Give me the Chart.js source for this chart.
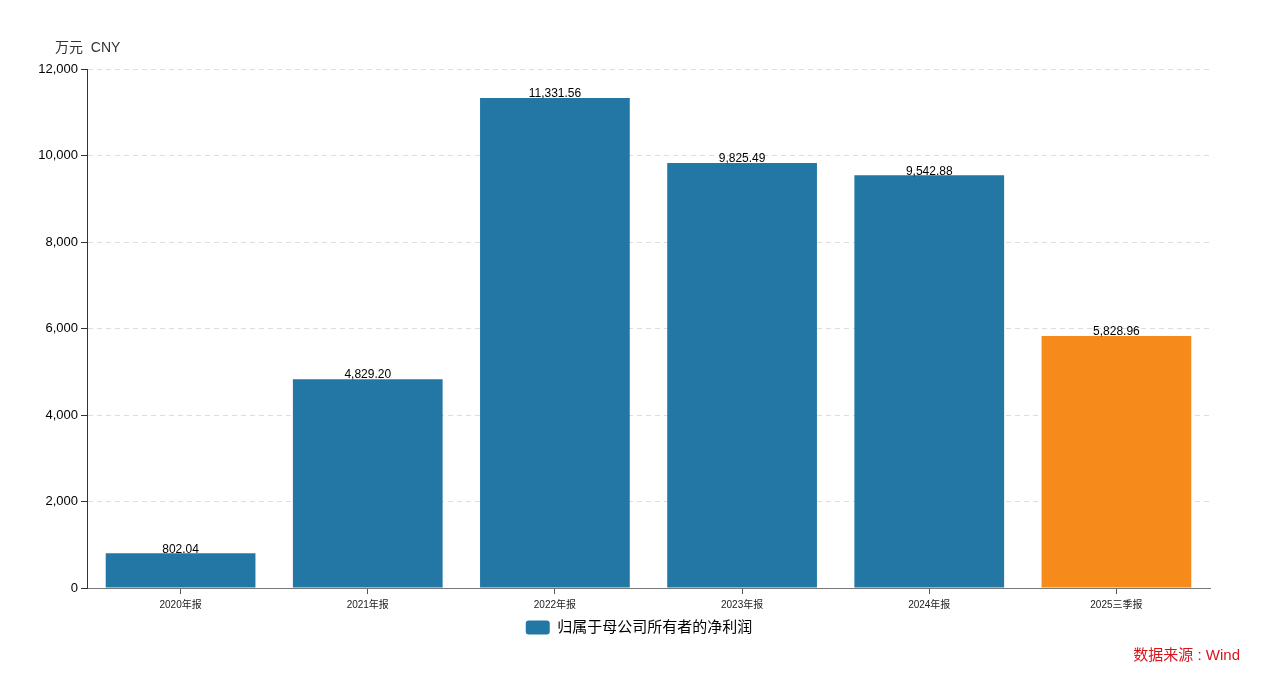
<!DOCTYPE html>
<html>
<head>
<meta charset="utf-8">
<script src="https://cdn.jsdelivr.net/npm/chart.js@4"></script>
<style>
  html, body { margin: 0; padding: 0; background: #fff; }
  #wrap { position: relative; width: 1268px; height: 679px; }
</style>
</head>
<body>
<div id="wrap"><canvas id="profitChart" width="1268" height="679"></canvas></div>
<script>
// 数据
const categories = ['2020年报', '2021年报', '2022年报', '2023年报', '2024年报', '2025三季报'];
const netProfit = [802.04, 4829.20, 11331.56, 9825.49, 9542.88, 5828.96];
const barColors = ['#2377a4', '#2377a4', '#2377a4', '#2377a4', '#2377a4', '#f68a1a'];
const yTicks = [0, 2000, 4000, 6000, 8000, 10000, 12000];

const FONT = '"Liberation Sans", Arial, "Noto Sans CJK SC", sans-serif';

// 柱顶数值 + 单位 + 数据来源
const extraText = {
    id: 'extraText',
    afterLayout(chart) {
        // 图例稍微右移，和原图对齐
        if (chart.legend) {
            chart.legend.left += 34;
            chart.legend.right += 34;
        }
    },
    afterDatasetsDraw(chart) {
        const ctx = chart.ctx;
        const meta = chart.getDatasetMeta(0);
        ctx.save();
        ctx.fillStyle = '#000';
        ctx.font = '12px ' + FONT;
        ctx.textAlign = 'center';
        ctx.textBaseline = 'bottom';
        meta.data.forEach((bar, i) => {
            const txt = netProfit[i].toLocaleString('en-US', { minimumFractionDigits: 2, maximumFractionDigits: 2 });
            ctx.fillText(txt, bar.x, bar.y + 2);
        });
        ctx.restore();
    },
    afterDraw(chart) {
        const ctx = chart.ctx;
        ctx.save();
        ctx.textBaseline = 'middle';
        ctx.fillStyle = '#333';
        ctx.font = '14px ' + FONT;
        ctx.textAlign = 'left';
        ctx.fillText('万元  CNY', 55, 48);
        ctx.fillStyle = '#d9141b';
        ctx.font = '15px ' + FONT;
        ctx.textAlign = 'right';
        ctx.fillText('数据来源 : Wind', 1240, 656);
        ctx.restore();
    }
};

new Chart(document.getElementById('profitChart'), {
    type: 'bar',
    data: {
        labels: categories,
        datasets: [{
            label: '归属于母公司所有者的净利润',
            data: netProfit,
            backgroundColor: barColors,
            barPercentage: 0.8,
            categoryPercentage: 1.0
        }]
    },
    options: {
        responsive: false,
        animation: false,
        layout: { padding: { left: 0, right: 58, top: 69, bottom: 34 } },
        scales: {
            x: {
                grid: { offset: false, drawOnChartArea: false, drawTicks: true, tickLength: 6, tickColor: '#555' },
                border: { color: '#777', width: 1 },
                ticks: { color: '#222', font: { size: 10, family: FONT }, padding: 5, maxRotation: 0 }
            },
            y: {
                min: 0,
                max: 12000,
                afterBuildTicks(scale) { scale.ticks = yTicks.map(v => ({ value: v })); },
                afterFit(scale) { scale.width = 87; },
                grid: { color: '#dddddd', tickColor: '#333', tickLength: 6 },
                border: { color: '#333', width: 1, dash: [5, 4] },
                ticks: {
                    color: '#000',
                    font: { size: 13, family: FONT },
                    padding: 3,
                    callback: v => v.toLocaleString('en-US')
                }
            }
        },
        plugins: {
            legend: {
                position: 'bottom',
                labels: {
                    boxWidth: 24,
                    boxHeight: 14,
                    padding: 4,
                    useBorderRadius: true,
                    borderRadius: 3,
                    color: '#222',
                    font: { size: 15, family: FONT },
                    generateLabels(chart) {
                        return [{
                            text: chart.data.datasets[0].label,
                            fillStyle: '#2377a4',
                            strokeStyle: '#2377a4',
                            lineWidth: 0,
                            borderRadius: 3,
                            datasetIndex: 0
                        }];
                    }
                }
            },
            tooltip: { enabled: false }
        }
    },
    plugins: [extraText]
});
</script>
</body>
</html>
